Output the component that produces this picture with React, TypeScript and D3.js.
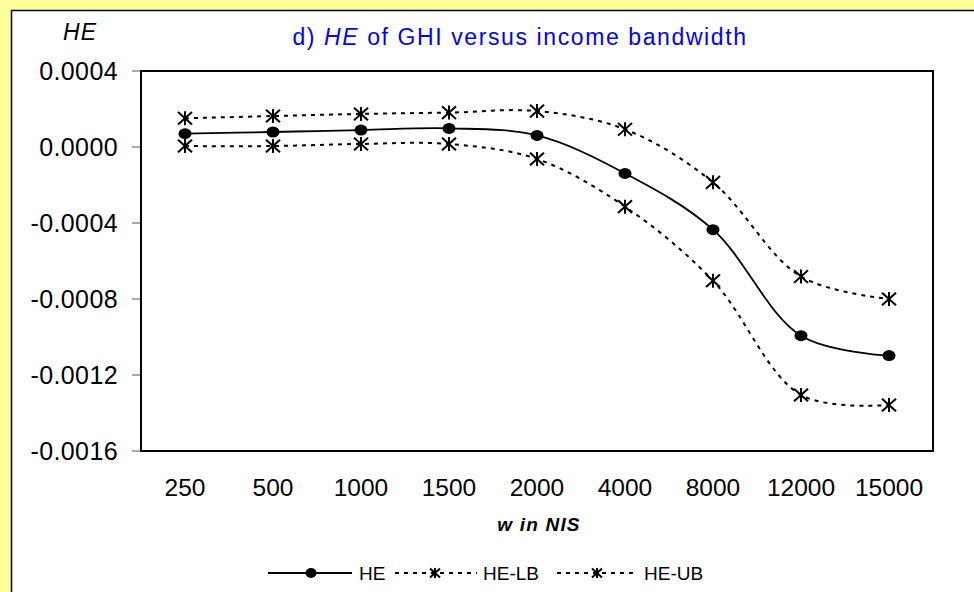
import React from "react";
import * as d3 from "d3";

const categories = ["250", "500", "1000", "1500", "2000", "4000", "8000", "12000", "15000"];
const heValues = [0.00007, 0.000079, 0.000089, 0.000098, 0.000061, -0.000139, -0.000435, -0.000993, -0.001098];
const lbValues = [0.000005, 0.000005, 0.000016, 0.000016, -0.000063, -0.000314, -0.000704, -0.001305, -0.001358];
const ubValues = [0.000151, 0.000163, 0.000174, 0.000181, 0.000189, 0.000093, -0.000186, -0.000682, -0.0008];
const yTicks = [0.0004, 0, -0.0004, -0.0008, -0.0012, -0.0016];
const yTickLabels = ["0.0004", "0.0000", "-0.0004", "-0.0008", "-0.0012", "-0.0016"];

const W = 974;
const H = 592;
const plot = { left: 141, right: 933, top: 71, bottom: 451 };
const FONT = "'Liberation Sans', Arial, sans-serif";

function Star({ x, y, s }: { x: number; y: number; s: number }) {
  const h = s / 2;
  return (
    <g stroke="#000" strokeWidth={2}>
      <line x1={x - h} y1={y - h * 0.9} x2={x + h} y2={y + h * 0.9} />
      <line x1={x - h} y1={y + h * 0.9} x2={x + h} y2={y - h * 0.9} />
      <line x1={x} y1={y - h} x2={x} y2={y + h} />
    </g>
  );
}

export default function App() {
  const x = d3.scaleBand<string>().domain(categories).range([plot.left, plot.right]);
  const cx = (c: string) => (x(c) as number) + x.bandwidth() / 2;
  const y = d3.scaleLinear().domain([-0.0016, 0.0004]).range([plot.bottom, plot.top]);
  const line = d3
    .line<number>()
    .x((_, i) => cx(categories[i]))
    .y((v) => y(v))
    .curve(d3.curveCatmullRom.alpha(0.5));

  return (
    <div style={{ position: "absolute", left: 0, top: 0, width: W, height: H }}>
      <svg width={W} height={H} style={{ display: "block", fontFamily: FONT }}>
        <rect x={0} y={0} width={W} height={H} fill="#FFFF99" />
        <rect x={11.5} y={10.5} width={W + 10} height={H + 10} fill="#fff" stroke="#000" strokeWidth={1.5} />

        {/* title */}
        <text x={520} y={45} textAnchor="middle" fill="#0000FF" fontSize={23} letterSpacing={1.6}>
          <tspan>d) </tspan>
          <tspan fontStyle="italic">HE</tspan>
          <tspan> of GHI versus income bandwidth</tspan>
        </text>

        {/* y axis label */}
        <text x={80} y={40} textAnchor="middle" fontSize={23} fontStyle="italic" fill="#000" letterSpacing={1}>
          HE
        </text>

        {/* y ticks */}
        {yTicks.map((t, i) => (
          <g key={i}>
            <line x1={132} x2={plot.left} y1={y(t)} y2={y(t)} stroke="#555" strokeWidth={1} />
            <text x={118} y={y(t) + 9} textAnchor="end" fontSize={25} fill="#000" letterSpacing={0.4}>
              {yTickLabels[i]}
            </text>
          </g>
        ))}

        {/* x labels */}
        {categories.map((c) => (
          <text key={c} x={cx(c)} y={496} textAnchor="middle" fontSize={24.5} fill="#000">
            {c}
          </text>
        ))}
        <text x={539} y={531} textAnchor="middle" fontSize={19} fontWeight="bold" fontStyle="italic" fill="#000" letterSpacing={1.2}>
          w in NIS
        </text>

        {/* frame */}
        <rect
          x={plot.left}
          y={plot.top}
          width={plot.right - plot.left}
          height={plot.bottom - plot.top}
          fill="none"
          stroke="#000"
          strokeWidth={2}
        />

        {/* series */}
        <path d={line(ubValues) || ""} fill="none" stroke="#000" strokeWidth={2} strokeDasharray="4,5" />
        <path d={line(lbValues) || ""} fill="none" stroke="#000" strokeWidth={2} strokeDasharray="4,5" />
        <path d={line(heValues) || ""} fill="none" stroke="#000" strokeWidth={1.8} />
        {ubValues.map((v, i) => (
          <Star key={"u" + i} x={cx(categories[i])} y={y(v)} s={14} />
        ))}
        {lbValues.map((v, i) => (
          <Star key={"l" + i} x={cx(categories[i])} y={y(v)} s={14} />
        ))}
        {heValues.map((v, i) => (
          <ellipse key={"h" + i} cx={cx(categories[i])} cy={y(v)} rx={6.5} ry={5.5} fill="#000" />
        ))}

        {/* legend */}
        <g>
          <line x1={268} x2={352} y1={573} y2={573} stroke="#000" strokeWidth={1.8} />
          <ellipse cx={311} cy={573} rx={5.5} ry={5} fill="#000" />
          <text x={359} y={580} fontSize={19} fill="#000">HE</text>

          <line x1={395} x2={477} y1={573} y2={573} stroke="#000" strokeWidth={2} strokeDasharray="4,5" />
          <Star x={435} y={573} s={10} />
          <text x={483} y={580} fontSize={19} fill="#000">HE-LB</text>

          <line x1={557} x2={638} y1={573} y2={573} stroke="#000" strokeWidth={2} strokeDasharray="4,5" />
          <Star x={597} y={573} s={10} />
          <text x={644} y={580} fontSize={19} fill="#000">HE-UB</text>
        </g>
      </svg>
    </div>
  );
}
